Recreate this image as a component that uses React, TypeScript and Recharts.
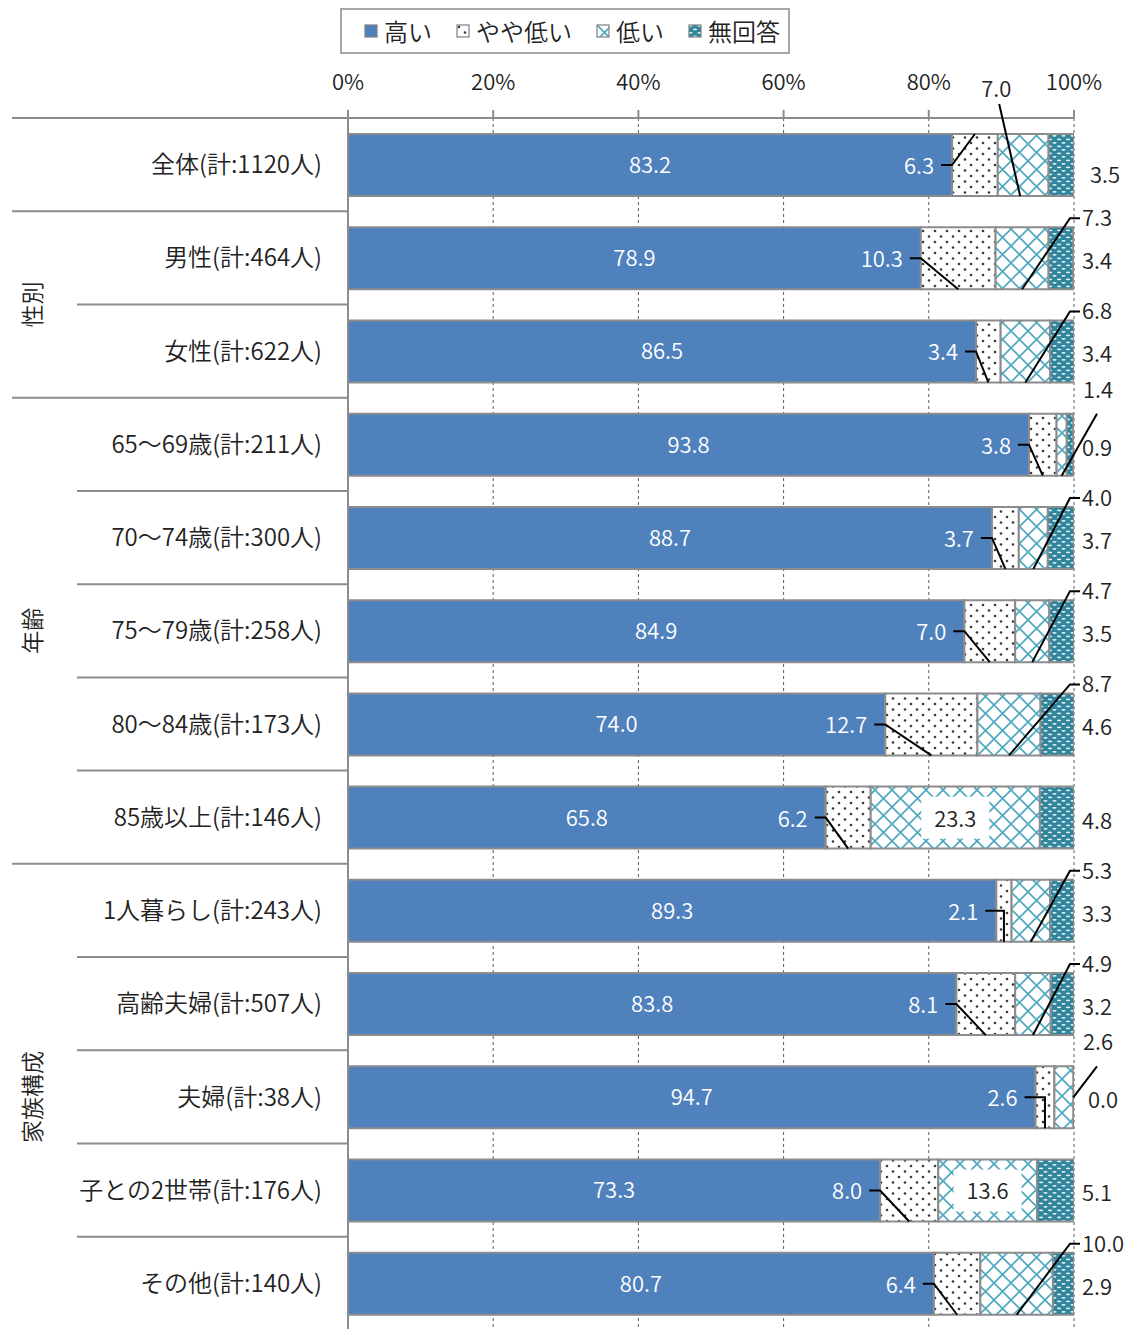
import React from 'react';
import { BarChart, Bar, XAxis, YAxis, CartesianGrid, Legend, LabelList } from 'recharts';

// Row labels (top to bottom)
const categories = [
  '全体(計:1120人)',
  '男性(計:464人)',
  '女性(計:622人)',
  '65～69歳(計:211人)',
  '70～74歳(計:300人)',
  '75～79歳(計:258人)',
  '80～84歳(計:173人)',
  '85歳以上(計:146人)',
  '1人暮らし(計:243人)',
  '高齢夫婦(計:507人)',
  '夫婦(計:38人)',
  '子との2世帯(計:176人)',
  'その他(計:140人)',
];

// Share of answers (%) per row
const high = [83.2, 78.9, 86.5, 93.8, 88.7, 84.9, 74.0, 65.8, 89.3, 83.8, 94.7, 73.3, 80.7];
const slightlyLow = [6.3, 10.3, 3.4, 3.8, 3.7, 7.0, 12.7, 6.2, 2.1, 8.1, 2.6, 8.0, 6.4];
const low = [7.0, 7.3, 6.8, 1.4, 4.0, 4.7, 8.7, 23.3, 5.3, 4.9, 2.6, 13.6, 10.0];
const noAnswer = [3.5, 3.4, 3.4, 0.9, 3.7, 3.5, 4.6, 4.8, 3.3, 3.2, 0.0, 5.1, 2.9];

const seriesNames = ['高い', 'やや低い', '低い', '無回答'];
const percentTicks = [0, 20, 40, 60, 80, 100];

// Row grouping shown on the far left
const groupNames = ['性別', '年齢', '家族構成'];
const groupStarts = [1, 3, 8];
const groupSizes = [2, 5, 5];

const data = categories.map((name, i) => ({
  name,
  high: high[i],
  slightlyLow: slightlyLow[i],
  low: low[i],
  noAnswer: noAnswer[i],
}));

// Layout
const CHART_W = 1124;
const CHART_H = 1322;
const X_AXIS_H = 40;
const MARGIN = { top: 70, right: 58, bottom: 0, left: 0 };
const Y_AXIS_W = 340;
const PLOT_LEFT = MARGIN.left + Y_AXIS_W;
const PLOT_RIGHT = CHART_W - MARGIN.right;
const PLOT_TOP = MARGIN.top + X_AXIS_H;
const BAND = (CHART_H - MARGIN.bottom - PLOT_TOP) / categories.length;

const FONT = "'Noto Sans CJK JP', 'Noto Sans', sans-serif";
const WEIGHT = 350;
const TEXT = '#222222';
const FRAME = '#8c8c8c';
const BLUE = '#4f81bd';

const Patterns = ({ prefix }: { prefix: string }) => (
  <defs>
    <pattern id={`${prefix}-dots`} width={12} height={11} patternUnits="userSpaceOnUse">
      <rect width={12} height={11} fill="#ffffff" />
      <circle cx={3} cy={3} r={1.3} fill="#3a3a3a" />
      <circle cx={9} cy={8.5} r={1.3} fill="#3a3a3a" />
    </pattern>
    <pattern id={`${prefix}-lattice`} width={17} height={17} patternUnits="userSpaceOnUse">
      <rect width={17} height={17} fill="#ffffff" />
      <path d="M0 0 L17 17 M17 0 L0 17" stroke="#4fa9bf" strokeWidth={1.7} />
    </pattern>
    <pattern id={`${prefix}-dash`} width={9} height={7} patternUnits="userSpaceOnUse">
      <rect width={9} height={7} fill="#31859c" />
      <ellipse cx={2.5} cy={1.8} rx={2.1} ry={0.9} fill="#e6f3f6" />
      <ellipse cx={7} cy={5.3} rx={2.1} ry={0.9} fill="#e6f3f6" />
    </pattern>
  </defs>
);

const fills = (prefix: string) => [BLUE, `url(#${prefix}-dots)`, `url(#${prefix}-lattice)`, `url(#${prefix}-dash)`];

const geom = (p: any) => {
  const vb = p.viewBox ?? {};
  return {
    x: Number(vb.x ?? p.x),
    y: Number(vb.y ?? p.y),
    width: Number(vb.width ?? p.width),
    height: Number(vb.height ?? p.height),
    index: Number(p.index),
  };
};

const numText = (x: number, y: number, v: string, fill: string, anchor: 'start' | 'middle' | 'end') => (
  <text x={x} y={y} dy="0.36em" textAnchor={anchor} fill={fill} fontSize={22} fontFamily={FONT} fontWeight={WEIGHT}>
    {v}
  </text>
);

const renderHigh = (p: any) => {
  const { x, y, width, height, index } = geom(p);
  return numText(x + width / 2, y + height / 2, high[index].toFixed(1), '#ffffff', 'middle');
};

const renderSlightlyLow = (p: any) => {
  const { x, y, width, height, index } = geom(p);
  const cy = y + height / 2;
  const cx = x + width / 2;
  const endY = index === 0 ? y : y + height;
  const pts =
    width < 24
      ? `${x - 11},${cy} ${cx},${cy} ${cx},${endY}`
      : `${x - 11},${cy} ${x},${cy} ${cx},${endY}`;
  return (
    <g>
      {numText(x - 18, cy + 1, slightlyLow[index].toFixed(1), '#ffffff', 'end')}
      <polyline points={pts} fill="none" stroke="#000" strokeWidth={2} />
    </g>
  );
};

// 無回答 values sit to the right of the plot; drawn with the 低い layer so that
// rows whose 無回答 segment has zero width still get their value.
const noAnswerText = (y: number, height: number, index: number) => {
  const cy = y + height / 2;
  const first = index === 0;
  const dx = first ? 16 : noAnswer[index] === 0 ? 14 : 8;
  return numText(PLOT_RIGHT + dx, cy + (first ? 10 : 3), noAnswer[index].toFixed(1), TEXT, 'start');
};

const lowText = (x: number, y: number, width: number, height: number, index: number) => {
  const v = low[index];
  const label = v.toFixed(1);
  const cx = x + width / 2;
  const cy = y + height / 2;
  const bottom = y + height;
  if (v >= 12) {
    const w = label.length * 13 + 16;
    return (
      <g>
        <rect x={cx - w / 2} y={cy - 21} width={w} height={42} fill="#ffffff" />
        {numText(cx, cy + 1, label, TEXT, 'middle')}
      </g>
    );
  }
  if (index === 0) {
    return (
      <g>
        {numText(cx - 27, PLOT_TOP - 29, label, TEXT, 'middle')}
        <line x1={cx - 24} y1={PLOT_TOP - 14} x2={cx - 3} y2={bottom} stroke="#000" strokeWidth={2} />
      </g>
    );
  }
  if (v < 3) {
    const endsAtEdge = noAnswer[index] === 0;
    const ex = endsAtEdge ? x + width : cx;
    const ey = endsAtEdge ? cy : bottom;
    return (
      <g>
        {numText(PLOT_RIGHT + 9, y - 24, label, TEXT, 'start')}
        <line x1={PLOT_RIGHT + 23} y1={y} x2={ex} y2={ey} stroke="#000" strokeWidth={2} />
      </g>
    );
  }
  const ly = y - 9;
  return (
    <g>
      {numText(PLOT_RIGHT + 8, ly, label, TEXT, 'start')}
      <polyline
        points={`${PLOT_RIGHT + 6},${ly} ${PLOT_RIGHT - 4},${ly} ${cx},${bottom}`}
        fill="none"
        stroke="#000"
        strokeWidth={2}
      />
    </g>
  );
};

const renderLow = (p: any) => {
  const { x, y, width, height, index } = geom(p);
  return (
    <g>
      {lowText(x, y, width, height, index)}
      {noAnswerText(y, height, index)}
    </g>
  );
};

const PercentTick = (props: any) => {
  const { x, payload } = props;
  return (
    <text
      x={x}
      y={PLOT_TOP - 36}
      dy="0.36em"
      textAnchor="middle"
      fill={TEXT}
      fontSize={22}
      fontFamily={FONT}
      fontWeight={WEIGHT}
    >
      {`${payload.value}%`}
    </text>
  );
};

const CategoryTick = (props: any) => {
  const { y, payload, index } = props;
  const top = y - BAND / 2;
  const gi = groupStarts.indexOf(index);
  const long = index === 0 || gi >= 0;
  return (
    <g>
      <line x1={long ? 4 : 69} x2={PLOT_LEFT} y1={top} y2={top} stroke={FRAME} strokeWidth={2} />
      <text
        x={PLOT_LEFT - 26}
        y={y}
        dy="0.36em"
        textAnchor="end"
        fill={TEXT}
        fontSize={24}
        fontFamily={FONT}
        fontWeight={WEIGHT}
      >
        {payload.value}
      </text>
      {gi >= 0 && (
        <text
          transform={`translate(25, ${top + (groupSizes[gi] * BAND) / 2}) rotate(-90)`}
          dy="0.36em"
          textAnchor="middle"
          fill={TEXT}
          fontSize={23}
          fontFamily={FONT}
          fontWeight={WEIGHT}
        >
          {groupNames[gi]}
        </text>
      )}
    </g>
  );
};

const LegendBox = () => {
  const f = fills('lg');
  return (
    <div
      style={{
        width: 450,
        height: 46,
        boxSizing: 'border-box',
        border: '2px solid #a6a6a6',
        display: 'flex',
        alignItems: 'center',
        paddingLeft: 22,
        fontFamily: FONT,
        fontWeight: WEIGHT,
        fontSize: 24,
        color: TEXT,
        background: '#fff',
        whiteSpace: 'nowrap',
      }}
    >
      {seriesNames.map((n, i) => (
        <div key={n} style={{ display: 'flex', alignItems: 'center', marginRight: 24, flexShrink: 0 }}>
          <svg width={14} height={14} style={{ marginRight: 6, flexShrink: 0 }}>
            <Patterns prefix="lg" />
            <rect x={1} y={1} width={12} height={12} fill={f[i]} stroke="#7f7f7f" strokeWidth={1.2} />
          </svg>
          <span style={{ lineHeight: 1 }}>{n}</span>
        </div>
      ))}
    </div>
  );
};

export default function App() {
  const f = fills('bar');
  return (
    <div style={{ width: CHART_W, height: CHART_H, fontFamily: FONT }}>
      <BarChart width={CHART_W} height={CHART_H} data={data} layout="vertical" margin={MARGIN} barSize={62}>
        <Patterns prefix="bar" />
        <CartesianGrid horizontal={false} stroke="#5a5a5a" strokeDasharray="3 3" />
        <XAxis
          type="number"
          orientation="top"
          domain={[0, 100]}
          allowDataOverflow
          ticks={percentTicks}
          height={X_AXIS_H}
          tick={<PercentTick />}
          tickSize={8}
          tickLine={{ stroke: FRAME, strokeWidth: 2 }}
          axisLine={{ stroke: FRAME, strokeWidth: 2 }}
        />
        <YAxis
          type="category"
          dataKey="name"
          width={Y_AXIS_W}
          interval={0}
          tick={<CategoryTick />}
          tickLine={false}
          axisLine={{ stroke: FRAME, strokeWidth: 2 }}
        />
        <Legend
          verticalAlign="middle"
          align="center"
          layout="horizontal"
          wrapperStyle={{ left: 332, top: 0, width: 450, height: 46 }}
          content={() => <LegendBox />}
        />
        <Bar dataKey="high" name={seriesNames[0]} stackId="s" fill={f[0]} stroke={FRAME} strokeWidth={2} isAnimationActive={false}>
          <LabelList dataKey="high" content={renderHigh} />
        </Bar>
        <Bar dataKey="slightlyLow" name={seriesNames[1]} stackId="s" fill={f[1]} stroke={FRAME} strokeWidth={2} isAnimationActive={false}>
          <LabelList dataKey="slightlyLow" content={renderSlightlyLow} />
        </Bar>
        <Bar dataKey="low" name={seriesNames[2]} stackId="s" fill={f[2]} stroke={FRAME} strokeWidth={2} isAnimationActive={false}>
          <LabelList dataKey="low" content={renderLow} />
        </Bar>
        <Bar dataKey="noAnswer" name={seriesNames[3]} stackId="s" fill={f[3]} stroke={FRAME} strokeWidth={2} isAnimationActive={false} />
      </BarChart>
    </div>
  );
}
